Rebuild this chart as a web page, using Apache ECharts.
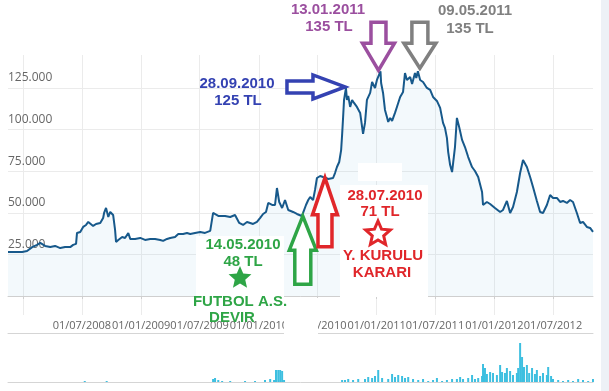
<!DOCTYPE html>
<html><head><meta charset="utf-8">
<script src="https://cdn.jsdelivr.net/npm/echarts@6/dist/echarts.min.js"></script>
<style>html,body{margin:0;padding:0;background:#fff}#c{width:609px;height:391px}</style>
</head><body><div id="c"></div>
<script>
const priceDates = ['2007-11-15','2007-12-07','2007-12-29','2008-01-13','2008-01-29','2008-02-13','2008-02-23','2008-03-09','2008-03-25','2008-04-09','2008-04-25','2008-05-10','2008-05-26','2008-06-04','2008-06-13','2008-06-16','2008-06-26','2008-07-05','2008-07-14','2008-07-21','2008-07-27','2008-08-05','2008-08-14','2008-08-27','2008-09-05','2008-09-08','2008-09-14','2008-09-21','2008-09-27','2008-10-06','2008-10-12','2008-10-15','2008-10-22','2008-11-03','2008-11-12','2008-11-22','2008-11-28','2008-12-13','2008-12-29','2009-01-13','2009-01-29','2009-02-13','2009-03-01','2009-03-10','2009-03-22','2009-04-01','2009-04-16','2009-04-26','2009-05-02','2009-05-11','2009-05-23','2009-06-02','2009-06-17','2009-07-03','2009-07-18','2009-08-03','2009-08-12','2009-08-18','2009-08-28','2009-09-03','2009-09-18','2009-10-04','2009-10-19','2009-10-25','2009-11-01','2009-11-13','2009-11-25','2009-12-05','2009-12-14','2009-12-26','2010-01-05','2010-01-14','2010-01-23','2010-01-30','2010-02-11','2010-02-20','2010-02-26','2010-03-05','2010-03-14','2010-03-23','2010-04-02','2010-04-17','2010-04-29','2010-05-14','2010-05-18','2010-05-27','2010-06-03','2010-06-09','2010-06-18','2010-06-24','2010-06-30','2010-07-10','2010-07-19','2010-07-28','2010-08-04','2010-08-10','2010-08-19','2010-08-25','2010-08-31','2010-09-07','2010-09-13','2010-09-16','2010-09-19','2010-09-22','2010-09-28','2010-10-01','2010-10-05','2010-10-11','2010-10-17','2010-10-23','2010-11-01','2010-11-11','2010-11-17','2010-11-20','2010-11-26','2010-12-02','2010-12-12','2010-12-18','2010-12-27','2011-01-02','2011-01-13','2011-01-15','2011-01-21','2011-01-27','2011-02-02','2011-02-06','2011-02-12','2011-02-18','2011-02-27','2011-03-05','2011-03-15','2011-03-24','2011-03-30','2011-04-05','2011-04-15','2011-04-21','2011-04-30','2011-05-04','2011-05-09','2011-05-16','2011-05-25','2011-06-06','2011-06-16','2011-06-25','2011-07-07','2011-07-17','2011-07-26','2011-08-01','2011-08-07','2011-08-11','2011-08-17','2011-08-23','2011-09-01','2011-09-07','2011-09-14','2011-09-23','2011-10-02','2011-10-12','2011-10-24','2011-11-02','2011-11-12','2011-11-24','2011-11-27','2011-12-09','2011-12-19','2012-01-03','2012-01-19','2012-01-28','2012-02-09','2012-02-19','2012-02-28','2012-03-11','2012-03-21','2012-03-30','2012-04-11','2012-04-21','2012-04-30','2012-05-12','2012-05-22','2012-05-31','2012-06-12','2012-06-22','2012-07-01','2012-07-13','2012-07-23','2012-08-01','2012-08-13','2012-08-23','2012-09-01','2012-09-13','2012-09-23','2012-10-02','2012-10-14','2012-10-24','2012-11-02'];
const priceValues = [26400,26400,26400,27000,29400,30700,31900,30100,29400,30100,28800,29400,29400,30700,31300,37900,38500,41500,42700,44500,43900,42100,43300,43900,46900,49900,52900,47500,50500,48700,39700,32500,33700,35500,34900,37900,34300,34300,34900,33700,34300,34300,33700,33100,34300,34900,35500,37300,38500,37300,37900,37300,37900,38500,37900,39100,49900,50500,48100,46900,48100,47500,48700,48100,43900,42700,44500,43900,43300,44500,46900,49300,50500,55900,54700,54700,64900,56500,52900,57700,51700,50500,49300,48100,49900,54700,57700,59500,57700,63700,70900,72100,71500,71000,70300,69100,70900,73900,77500,80500,87700,96800,107000,117800,125000,117800,120200,113600,117800,116000,113600,110000,101600,97400,104000,117800,122000,128600,125000,129800,135000,128000,122000,111800,107600,104600,107000,105200,110000,113600,119600,122600,134000,129800,131600,127400,134000,131000,135000,129800,128600,125000,123800,119600,117200,113000,104000,101000,95000,86500,78700,74500,89500,107000,101600,93800,89500,83500,77500,75100,71500,62500,54700,56500,55300,52900,50500,51700,57100,49900,53500,62500,73900,81700,77500,71500,65500,57100,50500,49900,54700,60700,58900,58900,56500,57100,55900,57700,56500,49900,43900,44500,41500,40900,38500];

const volumeDates = ['2008-07-10','2008-09-16','2009-08-12','2009-08-18','2009-08-28','2009-09-09','2009-10-04','2009-11-19','2009-12-20','2010-01-20','2010-02-05','2010-02-17','2010-02-23','2010-03-02','2010-03-08','2010-03-14','2010-03-20','2010-09-16','2010-09-25','2010-10-05','2010-10-20','2010-11-05','2010-11-26','2010-12-06','2010-12-18','2010-12-27','2011-01-06','2011-01-18','2011-02-06','2011-02-18','2011-02-27','2011-03-09','2011-03-21','2011-03-30','2011-04-09','2011-04-24','2011-05-10','2011-05-25','2011-06-10','2011-06-25','2011-07-07','2011-07-23','2011-08-07','2011-08-23','2011-09-07','2011-09-17','2011-09-26','2011-10-12','2011-10-24','2011-11-02','2011-11-12','2011-11-24','2011-11-27','2011-12-03','2011-12-09','2011-12-19','2011-12-28','2012-01-09','2012-01-19','2012-01-25','2012-02-03','2012-02-09','2012-02-19','2012-02-28','2012-03-11','2012-03-15','2012-03-21','2012-03-27','2012-04-02','2012-04-11','2012-04-18','2012-04-27','2012-05-06','2012-05-12','2012-05-22','2012-05-31','2012-06-12','2012-06-16','2012-06-25','2012-07-01','2012-07-17','2012-08-01','2012-08-17','2012-09-01','2012-09-17','2012-10-02','2012-10-18','2012-11-02'];
const volumeValues = [1,1,3,4,2,1,1,1,1,2,3,2,12,12,12,11,2,2,2,3,2,3,3,5,4,6,12,4,3,8,5,7,6,4,5,3,2,3,1,2,4,1,2,3,3,5,3,4,7,3,4,6,18,14,8,10,9,7,17,10,9,14,11,7,9,14,39,25,15,17,9,14,8,12,6,9,7,15,6,3,2,1,2,1,3,2,1,3];

const xTickDates = ['2008-01-01','2008-07-01','2009-01-01','2009-07-01','2010-01-01','2010-07-01','2011-01-01','2011-07-01','2012-01-01','2012-07-01'];
const xLabelDates = ['2008-07-01','2009-01-01','2009-07-01','2010-01-01','2010-07-01','2011-01-01','2011-07-01','2012-01-01','2012-07-01'];
const yTickValues = [0,25000,50000,75000,100000,125000];
const yLabelValues = [25000,50000,75000,100000,125000];

const noteDates = ['2010-05-14','2010-07-28','2010-09-28','2011-01-13','2011-05-09'];
const noteValues = [48000,71000,125000,135000,135000];
const noteDateTexts = ['14.05.2010','28.07.2010','28.09.2010','13.01.2011','09.05.2011'];
const notePriceTexts = ['48 TL','71 TL','125 TL','135 TL','135 TL'];
const noteEventTexts = [['FUTBOL A.S.','DEVIR'],['Y. KURULU','KARARI'],[],[],[]];

const pd = s => +echarts.number.parseDate(s);
const priceData = priceDates.map((d,i)=>[pd(d), priceValues[i]]);
const volumeData = volumeDates.map((d,i)=>[pd(d), volumeValues[i]]);
const p2 = n => String(n).padStart(2,'0');
const fmtDate = v => { const d = new Date(v); return p2(d.getDate())+'/'+p2(d.getMonth()+1)+'/'+d.getFullYear(); };
const fmtNum = v => String(v).replace(/\B(?=(\d{3})+(?!\d))/g,'.');

const xMin = pd('2007-11-15'), xMax = pd('2012-11-02');
const chart = echarts.init(document.getElementById('c'), null, {renderer:'canvas'});
const gridCol = '#ebebeb';
chart.setOption({
  animation:false,
  backgroundColor:'#ffffff',
  grid:[
    {left:8, right:16, top:55, height:260},
    {left:8, right:16, top:333, height:49}
  ],
  xAxis:[
    {type:'value', gridIndex:0, min:xMin, max:xMax,
     axisLine:{show:true, lineStyle:{color:'#cfcfcf'}},
     axisTick:{show:true, length:3, lineStyle:{color:'#cfcfcf'}, customValues:xTickDates.map(pd)},
     splitLine:{show:true, lineStyle:{color:gridCol}},
     axisLabel:{customValues:xLabelDates.map(pd), formatter:v=>fmtDate(v), color:'#666', fontFamily:'Open Sans', fontSize:11, margin:5, hideOverlap:false}
    },
    {type:'value', gridIndex:1, min:xMin, max:xMax,
     axisLine:{show:true, lineStyle:{color:'#d5d5d5'}}, axisTick:{show:false}, axisLabel:{show:false}, splitLine:{show:false}},
    {type:'value', gridIndex:1, position:'top', min:xMin, max:xMax,
     axisLine:{show:true, lineStyle:{color:'#d5d5d5'}}, axisTick:{show:false}, axisLabel:{show:false}, splitLine:{show:false}}
  ],
  yAxis:[
    {type:'value', gridIndex:0, min:-11400, max:144800,
     axisLine:{show:false}, axisTick:{show:false, customValues:yTickValues},
     splitLine:{show:true, lineStyle:{color:gridCol}},
     axisLabel:{inside:true, customValues:yLabelValues, formatter:v=>fmtNum(v), color:'#666', fontFamily:'Open Sans', fontSize:12, align:'left', verticalAlign:'bottom', lineHeight:12, padding:[0,0,4,0], margin:0}
    },
    {type:'value', gridIndex:1, min:0, max:49, show:false, splitLine:{show:false}}
  ],
  series:[
    {type:'line', xAxisIndex:0, yAxisIndex:0, data:priceData, showSymbol:false, symbol:'none',
     lineStyle:{color:'#17598b', width:2}, areaStyle:{color:'rgba(170,212,236,0.2)'}},
    {type:'bar', xAxisIndex:1, yAxisIndex:1, data:volumeData, barWidth:2, itemStyle:{color:'#3dbfe0'}}
  ]
});

function starPts(cx, cy, R, r){ const pts=[]; for(let i=0;i<10;i++){ const a=-Math.PI/2+i*Math.PI/5; const q=i%2?r:R; pts.push([cx+q*Math.cos(a), cy+q*Math.sin(a)]);} return pts; }
function upArrow(tx,ty,L,hh,hw,sw){ return [[tx,ty],[tx+hw,ty+hh],[tx+sw,ty+hh],[tx+sw,ty+L],[tx-sw,ty+L],[tx-sw,ty+hh],[tx-hw,ty+hh]]; }
function downArrow(tx,ty,L,hh,hw,sw){ return upArrow(tx,ty,L,hh,hw,sw).map(p=>[p[0], 2*ty-p[1]]); }
function rightArrow(tx,ty,L,hh,hw,sw){ return [[tx,ty],[tx-hh,ty-hw],[tx-hh,ty-sw],[tx-L,ty-sw],[tx-L,ty+sw],[tx-hh,ty+sw],[tx-hh,ty+hw]]; }

const tips = noteDates.map((d,i)=>chart.convertToPixel({xAxisIndex:0,yAxisIndex:0},[pd(d), noteValues[i]]));
const colors = ['#2ea546','#e0262a','#3442b2','#9b4f9f','#808080'];
const font = 'bold 15px "Liberation Sans", Arial, sans-serif';
const g = [];
g.push({type:'rect', shape:{x:601,y:0,width:8,height:391}, style:{fill:'#edf1f6'}, z:100});
g.push({type:'rect', shape:{x:196,y:236,width:88,height:82}, style:{fill:'#fff'}, z:100});
g.push({type:'rect', shape:{x:284,y:298,width:34,height:38}, style:{fill:'#fff'}, z:100});
g.push({type:'rect', shape:{x:340,y:185,width:88,height:112}, style:{fill:'#fff'}, z:100});
g.push({type:'rect', shape:{x:358,y:163,width:44,height:18}, style:{fill:'#fff'}, z:100});
function txt(t,x,y,c){ g.push({type:'text', x:x, y:y, style:{text:t, fill:c, font:font, align:'center', verticalAlign:'middle'}, z:120}); }
g.push({type:'polygon', shape:{points:upArrow(tips[0][0]+1, tips[0][1], 68, 34, 13.5, 8)}, style:{fill:'#fff', stroke:colors[0], lineWidth:3.5}, z:110});
g.push({type:'polygon', shape:{points:upArrow(tips[1][0]-1, tips[1][1], 69, 37, 12.5, 7)}, style:{fill:'#fff', stroke:colors[1], lineWidth:3.5}, z:110});
g.push({type:'polygon', shape:{points:rightArrow(tips[2][0]-1, tips[2][1]-1, 58, 32, 12, 6)}, style:{fill:'#fff', stroke:colors[2], lineWidth:3.5}, z:110});
g.push({type:'polygon', shape:{points:downArrow(tips[3][0]-2, tips[3][1]-1, 48, 27, 16, 7.5)}, style:{fill:'#fff', stroke:colors[3], lineWidth:3.5}, z:110});
g.push({type:'polygon', shape:{points:downArrow(tips[4][0]+2, tips[4][1]-3, 46, 25, 16, 8)}, style:{fill:'#fff', stroke:colors[4], lineWidth:3.5}, z:110});
txt(noteDateTexts[0],243,245,colors[0]); txt(notePriceTexts[0],243,262,colors[0]);
g.push({type:'polygon', shape:{points:starPts(240,278,12,5.5)}, style:{fill:colors[0]}, z:110});
txt(noteEventTexts[0][0],240,302,colors[0]); txt(noteEventTexts[0][1],232,318,colors[0]);
txt(noteDateTexts[1],385,196,colors[1]); txt(notePriceTexts[1],380,212,colors[1]);
g.push({type:'polygon', shape:{points:starPts(378,234,13,6)}, style:{fill:'#fff', stroke:colors[1], lineWidth:3}, z:110});
txt(noteEventTexts[1][0],383,256,colors[1]); txt(noteEventTexts[1][1],382,273,colors[1]);
txt(noteDateTexts[2],237,84,colors[2]); txt(notePriceTexts[2],238,101,colors[2]);
txt(noteDateTexts[3],328,10,colors[3]); txt(notePriceTexts[3],329,27,colors[3]);
txt(noteDateTexts[4],475,11,colors[4]); txt(notePriceTexts[4],470,29,colors[4]);
chart.setOption({graphic:g});
</script></body></html>
